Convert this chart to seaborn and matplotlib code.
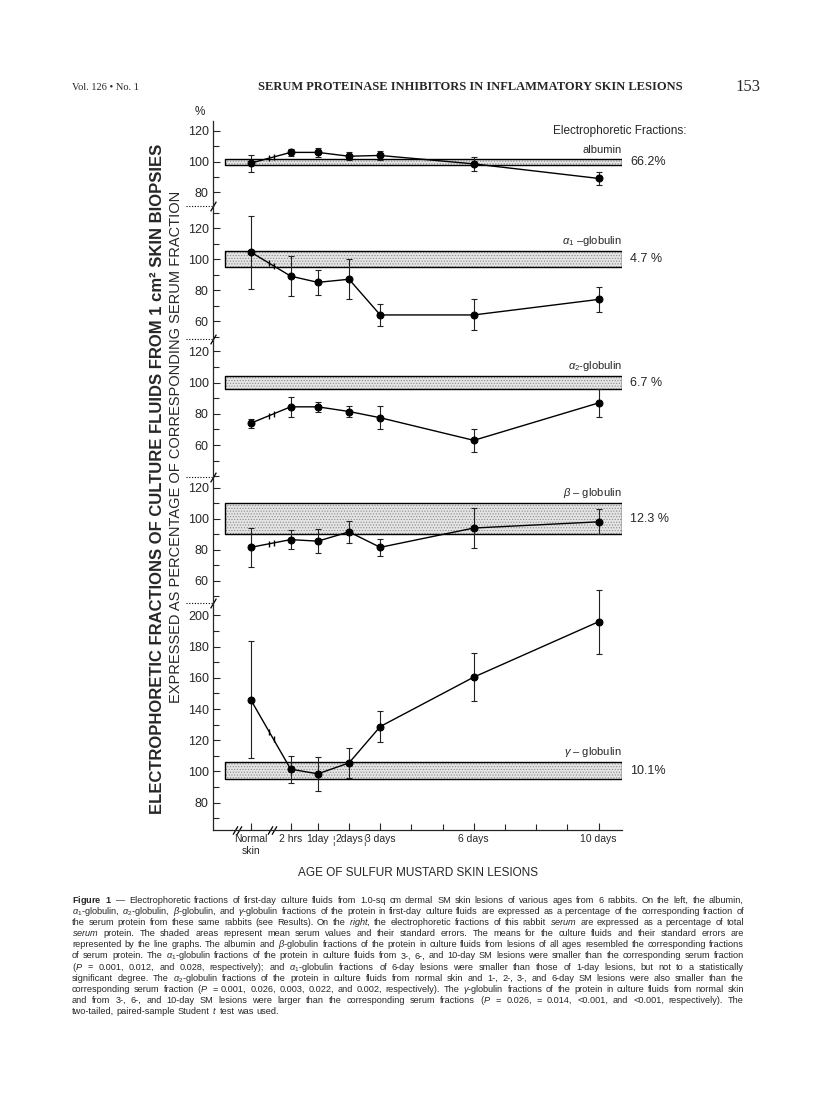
"""
Figure 1 - electrophoretic fractions of culture fluids from SM skin lesions
(five stacked panels with serum bands, page header and caption)
"""

import numpy as np
import pandas as pd
import matplotlib
matplotlib.use("Agg")
import matplotlib.pyplot as plt
from matplotlib.ticker import MultipleLocator, FixedLocator
import seaborn as sns

W, H = 816, 1114

# ---- data ----
AGE_LABELS = ["Normal\nskin", "2 hrs", "1day", "2days", "3 days", "6 days", "10 days"]
AGE_X = [-1.15, 0.13, 1, 2, 3, 6, 10]          # normal skin sits left of the axis break
MINOR_DAYS = [4, 5, 7, 8, 9]

FRACTION_NAMES = ["albumin", "$\\alpha_1$ \u2013globulin", "$\\alpha_2$-globulin",
                  "$\\beta$ \u2013 globulin", "$\\gamma$ \u2013 globulin"]
SERUM_PCT = ["66.2%", "4.7 %", "6.7 %", "12.3 %", "10.1%"]
SERUM_LOW = [98, 95, 96, 90, 95]
SERUM_HIGH = [102, 105, 104, 110, 106]

ALBUMIN_MEAN = [99, 106, 106, 103.5, 104, 98.5, 89]
ALBUMIN_SE = [5.5, 2.5, 3, 2.7, 3, 4.5, 4.5]
ALPHA1_MEAN = [104.5, 89, 85, 87, 64, 64, 74]
ALPHA1_SE = [23.5, 13, 8, 12.8, 7, 10, 8]
ALPHA2_MEAN = [74, 84.5, 84.5, 81.5, 77.5, 63, 87]
ALPHA2_SE = [3, 6.5, 3.3, 3.5, 7.5, 7.5, 9]
BETA_MEAN = [81.5, 86.5, 85.5, 91.5, 81.5, 94, 98]
BETA_SE = [12.5, 6, 7.7, 7, 5.7, 13, 8]
GAMMA_MEAN = [146, 101.5, 98.5, 105.5, 128.8, 160.5, 196]
GAMMA_SE = [37.5, 8.7, 10.7, 9.7, 10, 15.5, 20.6]

MEANS = [ALBUMIN_MEAN, ALPHA1_MEAN, ALPHA2_MEAN, BETA_MEAN, GAMMA_MEAN]
SES = [ALBUMIN_SE, ALPHA1_SE, ALPHA2_SE, BETA_SE, GAMMA_SE]
YTICKS = [[80, 100, 120], [60, 80, 100, 120], [60, 80, 100, 120],
          [60, 80, 100, 120], [80, 100, 120, 140, 160, 180, 200]]

# ---- layout (pixels of the page) ----
PANEL_TOP = [121, 206, 339, 477, 603]
PANEL_BOTTOM = [206, 339, 477, 603, 830]
YLIMS = [(71, 126.5), (48.5, 134.2), (39.5, 128), (45.5, 127), (62.5, 208)]
AX_LEFT, AX_RIGHT = 213, 622
X_LIM = (-2.36, 10.75)
BOX_LEFT = -1.96
LINE_BREAK = [-0.56, -0.42]
AXIS_BREAK = [-1.6, -0.47]

CAPTION = [
    "$\\bf{Figure}$ $\\bf{1}$ \u2014 Electrophoretic fractions of first-day culture fluids from 1.0-sq cm dermal SM skin lesions of various ages from 6 rabbits. On the left, the albumin,",
    "$\\alpha_1$-globulin, $\\alpha_2$-globulin, $\\beta$-globulin, and $\\gamma$-globulin fractions of the protein in first-day culture fluids are expressed as a percentage of the corresponding fraction of",
    "the serum protein from these same rabbits (see Results). On the $\\it{right}$, the electrophoretic fractions of this rabbit $\\it{serum}$ are expressed as a percentage of total",
    "$\\it{serum}$ protein. The shaded areas represent mean serum values and their standard errors. The means for the culture fluids and their standard errors are",
    "represented by the line graphs. The albumin and $\\beta$-globulin fractions of the protein in culture fluids from lesions of all ages resembled the corresponding fractions",
    "of serum protein. The $\\alpha_1$-globulin fractions of the protein in culture fluids from 3-, 6-, and 10-day SM lesions were smaller than the corresponding serum fraction",
    "($\\it{P}$ = 0.001, 0.012, and 0.028, respectively); and $\\alpha_1$-globulin fractions of 6-day lesions were smaller than those of 1-day lesions, but not to a statistically",
    "significant degree. The $\\alpha_2$-globulin fractions of the protein in culture fluids from normal skin and 1-, 2-, 3-, and 6-day SM lesions were also smaller than the",
    "corresponding serum fraction ($\\it{P}$ = 0.001, 0.026, 0.003, 0.022, and 0.002, respectively). The $\\gamma$-globulin fractions of the protein in culture fluids from normal skin",
    "and from 3-, 6-, and 10-day SM lesions were larger than the corresponding serum fractions ($\\it{P}$ = 0.026, = 0.014, <0.001, and <0.001, respectively). The",
    "two-tailed, paired-sample Student $\\it{t}$ test was used.",
]

sns.set_style("ticks")
plt.rcParams["font.family"] = ["Liberation Sans", "DejaVu Sans"]
plt.rcParams["mathtext.fontset"] = "custom"
plt.rcParams["mathtext.rm"] = "Liberation Sans"
plt.rcParams["mathtext.it"] = "Liberation Sans:italic"
plt.rcParams["mathtext.bf"] = "Liberation Sans:bold"
plt.rcParams["hatch.linewidth"] = 0.5

fig = plt.figure(figsize=(W / 100, H / 100), dpi=100)
fig.patch.set_facecolor("white")


def fx(px):
    return px / W


def fy(px):
    return 1 - px / H


slash = [(-1, -1.7), (1, 1.7)]

for i in range(5):
    ax = fig.add_axes([fx(AX_LEFT), fy(PANEL_BOTTOM[i]),
                       (AX_RIGHT - AX_LEFT) / W, (PANEL_BOTTOM[i] - PANEL_TOP[i]) / H])
    ax.set_facecolor("none")
    ax.set_xlim(*X_LIM)
    ax.set_ylim(*YLIMS[i])

    # serum band: stippled fill + black outline
    ax.fill_between([BOX_LEFT, X_LIM[1]], SERUM_LOW[i], SERUM_HIGH[i],
                    facecolor="#e4e4e4", edgecolor="#8a8a8a", hatch="......",
                    linewidth=0, zorder=1)
    ax.fill_between([BOX_LEFT, X_LIM[1]], SERUM_LOW[i], SERUM_HIGH[i],
                    facecolor="none", edgecolor="black", linewidth=1.0, zorder=2)

    df = pd.DataFrame({"age": AGE_X, "mean": MEANS[i]})
    sns.lineplot(data=df, x="age", y="mean", ax=ax, color="black", lw=1.0,
                 marker="o", markersize=5, markeredgecolor="black",
                 errorbar=None, zorder=4)
    eb = ax.errorbar(AGE_X, MEANS[i], yerr=SES[i], fmt="none", ecolor="#222222",
                     elinewidth=0.8, capsize=2.5, capthick=0.8, zorder=3)
    for art in eb.get_children():
        art.set_clip_on(False)

    # break marks on the line between normal skin and 2 hrs
    yb = np.interp(LINE_BREAK, AGE_X[:2], MEANS[i][:2])
    ax.plot(LINE_BREAK, yb, ls="none", marker="|", markersize=5,
            markeredgewidth=1.0, color="black", zorder=5)

    # labels of the serum fractions
    ax.annotate(FRACTION_NAMES[i], xy=(1, SERUM_HIGH[i]),
                xycoords=("axes fraction", "data"), xytext=(0, 2.5),
                textcoords="offset points", ha="right", va="bottom", fontsize=8)
    ax.annotate(SERUM_PCT[i], xy=(1, (SERUM_LOW[i] + SERUM_HIGH[i]) / 2),
                xycoords=("axes fraction", "data"), xytext=(6, 0),
                textcoords="offset points", ha="left", va="center", fontsize=9)

    ax.yaxis.set_major_locator(FixedLocator(YTICKS[i]))
    ax.yaxis.set_minor_locator(MultipleLocator(10))
    ax.tick_params(axis="y", which="major", direction="in", length=5, width=0.8,
                   labelsize=9, pad=3)
    ax.tick_params(axis="y", which="minor", direction="in", length=4, width=0.8)
    ax.set_xlabel("")
    ax.set_ylabel("")
    for side in ["top", "right"]:
        ax.spines[side].set_visible(False)
    ax.spines["left"].set_linewidth(0.9)

    if i < 4:
        ax.spines["bottom"].set_visible(False)
        ax.set_xticks([])
        # dotted separator + slash on the y axis
        ax.plot([-0.066, 0], [0, 0], transform=ax.transAxes, color="black",
                lw=0.8, ls=(0, (1, 1.5)), clip_on=False)
        ax.plot([0], [0], transform=ax.transAxes, marker=slash, markersize=7,
                color="black", mew=0.9, clip_on=False)
    else:
        ax.spines["bottom"].set_linewidth(0.9)
        ax.set_xticks(AGE_X)
        ax.set_xticklabels(AGE_LABELS)
        ax.xaxis.set_minor_locator(FixedLocator(MINOR_DAYS))
        ax.tick_params(axis="x", which="major", direction="in", length=5, width=0.8,
                       labelsize=7.5, pad=3)
        ax.tick_params(axis="x", which="minor", direction="in", length=4, width=0.8)
        for xb in AXIS_BREAK:
            ax.plot([xb - 0.07, xb + 0.07], [0, 0], transform=ax.get_xaxis_transform(),
                    ls="none", marker=slash, markersize=6, color="black", mew=0.9,
                    clip_on=False)
        for xs in [1.5, 2.5]:
            ax.text(xs, -0.05, "\u00a6", transform=ax.get_xaxis_transform(),
                    ha="center", va="center", fontsize=7)
        ax.set_xlabel("AGE OF SULFUR MUSTARD SKIN LESIONS", fontsize=8.5, labelpad=8)

fig.text(fx(200), fy(112), "%", ha="center", va="center", fontsize=8.5)
fig.text(fx(553), fy(131), "Electrophoretic Fractions:", ha="left", va="center", fontsize=8.5)

fig.text(fx(158), fy(479),
         "ELECTROPHORETIC FRACTIONS OF CULTURE FLUIDS FROM 1 cm\u00b2 SKIN BIOPSIES",
         rotation=90, ha="center", va="center", fontsize=12, fontweight="bold")
fig.text(fx(176), fy(447), "EXPRESSED AS PERCENTAGE OF CORRESPONDING SERUM FRACTION",
         rotation=90, ha="center", va="center", fontsize=10.5)

# page header
fig.text(fx(72), fy(87), "Vol. 126 \u2022 No. 1", family="Liberation Serif",
         fontsize=7.5, va="center")
fig.text(fx(258), fy(87), "SERUM PROTEINASE INHIBITORS IN INFLAMMATORY SKIN LESIONS",
         family="Liberation Serif", fontweight="bold", fontsize=9, va="center")
fig.text(fx(735), fy(87), "153", family="Liberation Serif", fontsize=12, va="center")

# caption, justified between x = 72 and 744
renderer = fig.canvas.get_renderer()
CAP_L, CAP_R = 72, 744


def line_words(line, size, y):
    words = line.split(" ")
    texts = [fig.text(0, y, w, fontsize=size, va="baseline") for w in words]
    widths = [t.get_window_extent(renderer).width for t in texts]
    return texts, widths


# pick the caption size so that the natural line length fills the column
natural = []
for line in CAPTION[:-1]:
    texts, widths = line_words(line, 6.0, 0)
    natural.append(sum(widths) + 6.0 * 0.28 * 100 / 72 * (len(widths) - 1))
    for t in texts:
        t.remove()
cap_size = 6.0 * (CAP_R - CAP_L) / max(natural) * 0.99

for k, line in enumerate(CAPTION):
    texts, widths = line_words(line, cap_size, fy(903 + k * 11.1))
    if k == len(CAPTION) - 1:
        gap = cap_size * 0.28 * 100 / 72
    else:
        gap = (CAP_R - CAP_L - sum(widths)) / (len(texts) - 1)
    x = CAP_L
    for t, wd in zip(texts, widths):
        t.set_x(fx(x))
        x += wd + gap

fig.savefig("out.png", dpi=100, facecolor="white")
